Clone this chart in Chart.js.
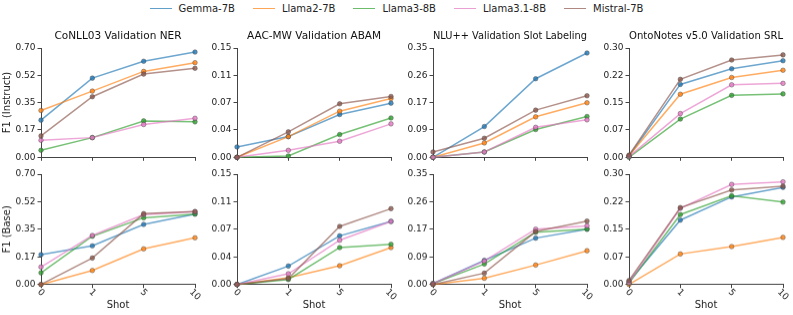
<!DOCTYPE html>
<html>
<head>
<meta charset="utf-8">
<script src="https://cdn.jsdelivr.net/npm/chart.js@4"></script>
<style>
  body { margin: 0; background: #fff; width: 793px; height: 315px; position: relative; overflow: hidden; font-family: "DejaVu Sans", sans-serif; }
  .panel { position: absolute; }
  #legend { position: absolute; top: 3px; left: 0; width: 793px; display: flex; justify-content: center; font-size: 10px; color: #222; }
  .item { display: flex; align-items: center; margin: 0 9px; }
  .swatch { width: 22px; height: 0; border-top: 1.5px solid; margin-right: 7px; opacity: 0.7; }
</style>
</head>
<body>
<div id="legend"></div>
<script>
// Shot counts on the x axis
const shots = ['0', '1', '5', '10'];
const models = ['Gemma-7B', 'Llama2-7B', 'Llama3-8B', 'Llama3.1-8B', 'Mistral-7B'];
const colors = ['#1f77b4', '#ff7f0e', '#2ca02c', '#e377c2', '#8c564b'];

const taskTitles = ['CoNLL03 Validation NER', 'AAC-MW Validation ABAM',
  'NLU++ Validation Slot Labeling', 'OntoNotes v5.0 Validation SRL'];
const yMax = [0.70, 0.15, 0.35, 0.30];
const conllTicks = ['0.00', '0.17', '0.35', '0.52', '0.70'];
const aacTicks = ['0.00', '0.04', '0.07', '0.11', '0.15'];
const nluTicks = ['0.00', '0.09', '0.17', '0.26', '0.35'];
const ontoTicks = ['0.00', '0.07', '0.15', '0.22', '0.30'];

// rows follow the models order
const conllInstruct = [
  [0.238, 0.507, 0.615, 0.674],
  [0.300, 0.424, 0.550, 0.606],
  [0.045, 0.126, 0.233, 0.227],
  [0.109, 0.126, 0.210, 0.250],
  [0.137, 0.388, 0.533, 0.570]
];
const aacInstruct = [
  [0.0142, 0.0284, 0.0587, 0.0743],
  [0.0, 0.0284, 0.0633, 0.0807],
  [0.0, 0.0018, 0.0312, 0.0540],
  [0.0, 0.0096, 0.0220, 0.0459],
  [0.0, 0.0349, 0.0734, 0.0835]
];
const nluInstruct = [
  [0.0, 0.0985, 0.2516, 0.334],
  [0.0, 0.046, 0.1296, 0.1745],
  [0.0, 0.017, 0.0889, 0.1306],
  [0.0, 0.017, 0.096, 0.120],
  [0.017, 0.061, 0.151, 0.197]
];
const ontoInstruct = [
  [0.0037, 0.200, 0.243, 0.265],
  [0.004, 0.173, 0.219, 0.239],
  [0.0, 0.105, 0.170, 0.174],
  [0.002, 0.120, 0.199, 0.203],
  [0.006, 0.214, 0.267, 0.281]
];
const conllBase = [
  [0.189, 0.245, 0.381, 0.447],
  [0.0, 0.089, 0.226, 0.296],
  [0.074, 0.306, 0.423, 0.447],
  [0.111, 0.311, 0.443, 0.462],
  [0.0, 0.168, 0.449, 0.462]
];
const aacBase = [
  [0.0, 0.0251, 0.0661, 0.0857],
  [0.0, 0.0091, 0.0255, 0.0502],
  [0.0, 0.0068, 0.0502, 0.0547],
  [0.0, 0.0146, 0.0602, 0.0857],
  [0.0, 0.0082, 0.0789, 0.1030]
];
const nluBase = [
  [0.003, 0.0766, 0.147, 0.1755],
  [0.0, 0.020, 0.0617, 0.107],
  [0.003, 0.065, 0.166, 0.1755],
  [0.003, 0.0745, 0.1755, 0.186],
  [0.0, 0.036, 0.168, 0.201]
];
const ontoBase = [
  [0.008, 0.175, 0.238, 0.264],
  [0.0, 0.083, 0.103, 0.128],
  [0.004, 0.190, 0.241, 0.224],
  [0.005, 0.207, 0.272, 0.279],
  [0.011, 0.209, 0.257, 0.267]
];

const tickSets = [conllTicks, aacTicks, nluTicks, ontoTicks];
const instructRows = [conllInstruct, aacInstruct, nluInstruct, ontoInstruct];
const baseRows = [conllBase, aacBase, nluBase, ontoBase];

Chart.defaults.font.family = '"DejaVu Sans", sans-serif';
Chart.defaults.color = '#222';

// legend on top
const legend = document.getElementById('legend');
models.forEach((m, i) => {
  const item = document.createElement('div');
  item.className = 'item';
  item.innerHTML = '<span class="swatch" style="border-color:' + colors[i] + '"></span>' + m;
  legend.appendChild(item);
});

function alpha(hex, a) {
  const n = parseInt(hex.slice(1), 16);
  return 'rgba(' + (n >> 16) + ',' + ((n >> 8) & 255) + ',' + (n & 255) + ',' + a + ')';
}

// x tick labels turned 45deg clockwise and centred under their tick, like matplotlib
const rotatedTicks = {
  id: 'rotatedTicks',
  afterDraw(chart, args, opts) {
    if (!opts.show) return;
    const sx = chart.scales.x;
    const ctx = chart.ctx;
    const size = 9;
    ctx.save();
    ctx.font = size + 'px "DejaVu Sans", sans-serif';
    ctx.fillStyle = '#222';
    ctx.textAlign = 'center';
    ctx.textBaseline = 'middle';
    sx.ticks.forEach((t, i) => {
      const label = shots[i];
      const w = ctx.measureText(label).width;
      const off = (w + size) / (2 * Math.SQRT2);
      ctx.save();
      ctx.translate(sx.getPixelForTick(i), sx.top + opts.gap + off);
      ctx.rotate(Math.PI / 4);
      ctx.fillText(label, 0, 0);
      ctx.restore();
    });
    ctx.restore();
  }
};

const plotLefts = [41, 237, 433, 629];
const plotWidth = 154;
const spine = '#444';

function makePanel(col, isTop) {
  const axisW = col === 0 ? 41 : 36;
  const div = document.createElement('div');
  div.className = 'panel';
  div.style.left = (plotLefts[col] - axisW) + 'px';
  div.style.width = (axisW + plotWidth + 6) + 'px';
  if (isTop) {
    div.style.top = '30px';
    div.style.height = '135.3px';
  } else {
    div.style.top = '166.3px';
    div.style.height = '148.7px';
  }
  const canvas = document.createElement('canvas');
  div.appendChild(canvas);
  document.body.appendChild(div);

  const rows = isTop ? instructRows[col] : baseRows[col];
  const ticks = tickSets[col];

  new Chart(canvas.getContext('2d'), {
    type: 'line',
    data: {
      labels: shots,
      datasets: models.map((m, i) => ({
        label: m,
        data: rows[i],
        borderColor: alpha(colors[i], 0.65),
        backgroundColor: alpha(colors[i], 0.8),
        pointBorderColor: 'rgba(70,70,70,0.55)',
        pointBorderWidth: 0.8,
        pointRadius: 2.3,
        borderWidth: 1.5,
        tension: 0,
        clip: false,
        order: models.length - 1 - i
      }))
    },
    plugins: [rotatedTicks],
    options: {
      responsive: true,
      maintainAspectRatio: false,
      animation: false,
      events: [],
      layout: { padding: { left: 0, right: 6, top: isTop ? 0 : 8, bottom: 0 } },
      plugins: {
        legend: { display: false },
        tooltip: { enabled: false },
        rotatedTicks: { show: !isTop, gap: 3 },
        title: {
          display: isTop,
          text: taskTitles[col],
          fullSize: false,
          color: '#111',
          font: { size: 10.5, weight: 'normal' },
          padding: { top: 0, bottom: 5.4 }
        }
      },
      scales: {
        x: {
          type: 'category',
          offset: false,
          grid: { drawOnChartArea: false, drawTicks: true, tickLength: 3.5, color: spine },
          border: { display: true, color: spine, width: 1 },
          ticks: { display: false },
          title: {
            display: !isTop,
            text: 'Shot',
            font: { size: 10 },
            padding: { top: 0, bottom: 4 }
          },
          afterFit: s => { s.height = isTop ? 8 : 31; }
        },
        y: {
          min: 0,
          max: yMax[col],
          grid: { drawOnChartArea: false, drawTicks: true, tickLength: 3.5, color: spine },
          border: { display: true, color: spine, width: 1 },
          ticks: {
            count: 5,
            padding: 2,
            font: { size: 9 },
            callback: (v, idx) => ticks[idx]
          },
          title: {
            display: col === 0,
            text: isTop ? 'F1 (Instruct)' : 'F1 (Base)',
            font: { size: 10 },
            padding: { top: 1, bottom: 0 }
          },
          afterFit: s => { s.width = axisW; }
        }
      }
    }
  });
}

for (let c = 0; c < 4; c++) {
  makePanel(c, true);
  makePanel(c, false);
}
</script>
</body>
</html>
